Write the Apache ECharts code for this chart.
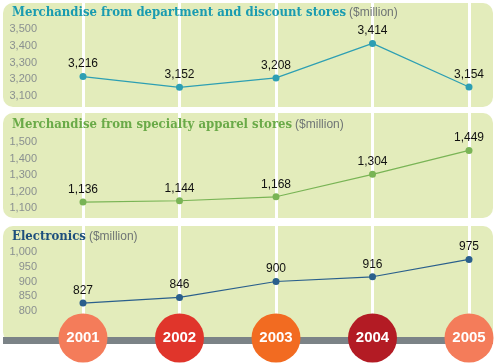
<!DOCTYPE html>
<html><head><meta charset="utf-8">
<script src="https://cdn.jsdelivr.net/npm/echarts@6/dist/echarts.min.js"></script>
<style>html,body{margin:0;padding:0;background:#fff}#c{width:495px;height:364px}</style>
</head><body><div id="c"></div>
<script>
const years = ['2001','2002','2003','2004','2005'];
const dept = [3216, 3152, 3208, 3414, 3154];
const apparel = [1136, 1144, 1168, 1304, 1449];
const electronics = [827, 846, 900, 916, 975];
const circleColors = ['#f47c5a','#e0352b','#f26b21','#b31b24','#f47c5a'];
const titles = ['Merchandise from department and discount stores','Merchandise from specialty apparel stores','Electronics'];
const titleColors = ['#1a9bb0','#6aaa48','#1d4f7c'];
const lineColors = ['#2d9fb3','#79b455','#2a5f8c'];
const yMin = [3100, 1100, 800], yMax = [3500, 1500, 1000], yInt = [100, 100, 50];
const seriesData = [dept, apparel, electronics];

const chart = echarts.init(document.getElementById('c'));
const gridDefs = [
  {left:83, right:26, top:29, height:67},
  {left:83, right:26, top:142, height:66},
  {left:83, right:26, top:252, height:59},
  {left:83, right:26, top:0, height:338}
];
const panelDefs = [[3,3,490,104],[3,113,490,105],[3,226,490,116]];
const titleTops = [1,113,225];

const option = {
  backgroundColor:'#ffffff',
  animation:false,
  graphic: panelDefs.map(p=>({type:'rect', z:-10, shape:{x:p[0],y:p[1],width:p[2],height:p[3],r:10}, style:{fill:'#e3ecbb'}}))
    .concat([{type:'rect', z:1, shape:{x:3,y:337,width:490,height:7}, style:{fill:'#7b8387'}}]),
  title: titles.map((t,i)=>({
    text:'{a|'+t+'}{b|($million)}', left:7, top:titleTops[i],
    textStyle:{fontWeight:'normal', rich:{
      a:{fontFamily:'DejaVu Serif Condensed', fontWeight:'bold', fontSize:13, color:titleColors[i]},
      b:{fontFamily:'Liberation Sans', fontWeight:'normal', fontSize:12, color:'#6f7575', padding:[0,0,0,3]}
    }}
  })),
  grid: gridDefs,
  xAxis: gridDefs.map((g,i)=>({
    type:'category', data:years, gridIndex:i, boundaryGap:false,
    show: i===3,
    axisLine:{show:false}, axisTick:{show:false}, axisLabel:{show:false},
    splitLine:{show:i===3, lineStyle:{color:'#ffffff', width:3}}
  })),
  yAxis: gridDefs.map((g,i)=>i<3 ? ({
    type:'value', gridIndex:i, min:yMin[i], max:yMax[i], interval:yInt[i],
    axisLine:{show:false}, axisTick:{show:false}, splitLine:{show:false},
    axisLabel:{margin:46, color:'#8a9090', fontSize:11, fontFamily:'Liberation Sans',
      formatter:v=>v.toLocaleString('en-US')}
  }) : ({type:'value', gridIndex:3, min:0, max:1, show:false})),
  series: seriesData.map((d,i)=>({
    type:'line', xAxisIndex:i, yAxisIndex:i, data:d,
    symbol:'circle', symbolSize:7,
    lineStyle:{color:lineColors[i], width:1.2}, itemStyle:{color:lineColors[i]},
    label:{show:true, position:'top', distance:3, color:'#111111', fontSize:12, fontFamily:'Liberation Sans',
      formatter:p=>p.value.toLocaleString('en-US')}
  })).concat([{
    type:'scatter', xAxisIndex:3, yAxisIndex:3, symbolSize:49, z:5,
    data: years.map((y,i)=>({value:[i,0], itemStyle:{color:circleColors[i], opacity:1}})),
    label:{show:true, position:'inside', color:'#ffffff', fontSize:15, fontWeight:'bold', fontFamily:'Liberation Sans',
      formatter:p=>years[p.value[0]]}
  }])
};
chart.setOption(option);
</script></body></html>
